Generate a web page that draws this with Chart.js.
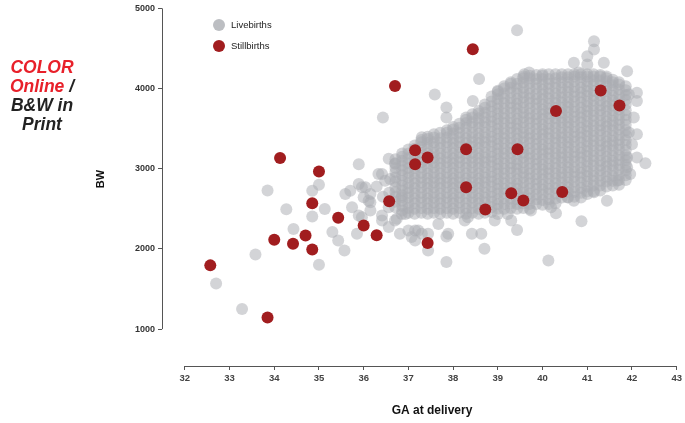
<!DOCTYPE html>
<html>
<head>
<meta charset="utf-8">
<script src="https://cdn.jsdelivr.net/npm/chart.js@4"></script>
<style>
  html, body { margin: 0; padding: 0; background: #fff; }
  #wrap { position: relative; width: 685px; height: 423px; }
  #note { position: absolute; left: 0; top: 58px; width: 84px; text-align: center;
          font-family: "Liberation Sans", Arial, sans-serif; font-weight: bold; font-style: italic;
          font-size: 17.5px; line-height: 19px; color: #222; }
  #note .red { color: #e8202a; }
</style>
</head>
<body>
<div id="wrap">
  <canvas id="c" width="685" height="423"></canvas>
  <div id="note"><span class="red">COLOR</span><br><span class="red">Online</span> /<br>B&amp;W in<br>Print</div>
</div>
<script>
// ---- data ----
const xTicks = [32, 33, 34, 35, 36, 37, 38, 39, 40, 41, 42, 43];
const yTicks = [1000, 2000, 3000, 4000, 5000];

const stillGA = [32.57, 33.85, 34.00, 34.13, 34.42, 34.70, 34.85, 34.85, 35.00, 35.43, 36.00, 36.29, 36.57, 36.70, 37.15, 37.15, 37.43, 37.43, 38.29, 38.29, 38.44, 38.72, 39.30, 39.44, 39.57, 40.30, 40.44, 41.30, 41.72];
const stillBW = [1795, 1145, 2114, 3133, 2065, 2168, 2569, 1994, 2967, 2388, 2292, 2172, 2595, 4031, 3231, 3057, 3141, 2073, 3243, 2768, 4491, 2491, 2694, 3243, 2603, 3720, 2710, 3977, 3790];

// scattered livebirths
const liveGA = [32.70, 33.28, 33.58, 33.85, 34.27, 34.43, 34.85, 35.00, 34.85, 35.00, 35.13, 35.30, 35.43, 35.57, 35.89, 35.85, 35.59, 35.70, 35.74, 35.89,
  35.89, 36.00, 36.04, 36.15, 36.15, 36.15, 36.33, 36.41, 36.48, 36.56, 36.74, 36.85, 36.93, 37.00, 37.07, 37.15, 37.44, 35.96, 36.11, 35.96,
  36.41, 36.56, 36.70, 36.81, 37.15, 37.67, 37.85, 37.85, 37.44, 37.30, 36.43, 36.56, 36.70, 36.41, 36.59, 37.30, 37.59, 37.85, 37.85, 38.44,
  38.58, 39.43, 41.15, 41.15, 41.00, 41.00, 40.70, 41.37, 41.89, 42.11, 42.11, 41.93, 42.04, 42.11, 42.00, 42.30, 42.11, 41.89, 41.89, 41.93,
  41.96, 41.44, 41.15, 41.00, 40.70, 40.56, 40.87, 41.67, 40.19, 40.30, 39.74, 39.30, 39.22, 39.00, 38.93, 38.63, 38.33, 38.26, 38.42, 38.70,
  39.43, 40.13, 37.89, 37.22, 36.85, 39.00, 39.59, 39.70, 40.81, 41.00, 41.78, 36.57, 36.43, 36.29];
const liveBW = [1570, 1250, 1930, 2730, 2495, 2250, 2727, 2800, 2404, 1804, 2497, 2210, 2106, 1981, 3057, 2189, 2685, 2727, 2520, 2810,
  2416, 2646, 2769, 2685, 2582, 2479, 2934, 2416, 2851, 2273, 2377, 2646, 2436, 2230, 2148, 2230, 1981, 2770, 2602, 2395,
  2354, 2520, 2354, 2189, 2106, 2312, 2155, 1836, 2189, 2189, 3640, 3124, 3062, 2934, 2872, 3392, 3925, 3763, 3640, 3845,
  4120, 4727, 4590, 4487, 4404, 4300, 4321, 4321, 4217, 3948, 3845, 3927, 3640, 3430, 3305, 3068, 3140, 3140, 3020, 3453,
  2934, 2602, 2706, 2686, 2602, 2646, 2345, 2851, 2520, 2445, 2478, 2354, 2436, 2436, 2354, 2189, 2395, 2354, 2189, 2003,
  2236, 1857, 2189, 2230, 2436, 3973, 4180, 4200, 4200, 5120, 5120, 2700, 2650, 2780];

// dense core of livebirths: one column per day of gestation
const colGA = [36.71, 36.86, 37.00, 37.14, 37.29, 37.43, 37.57, 37.71, 37.86, 38.00, 38.14, 38.29, 38.43, 38.57, 38.71, 38.86, 39.00, 39.14, 39.29,
  39.43, 39.57, 39.71, 39.86, 40.00, 40.14, 40.29, 40.43, 40.57, 40.71, 40.86, 41.00, 41.14, 41.29, 41.43, 41.57, 41.71, 41.86];
const colBW = [
  [2520,2590,2650,2710,2770,2840,2890,2960,3010,3070,3120],
  [2480,2540,2600,2670,2730,2790,2850,2920,2980,3040,3100,3150,3190],
  [2450,2510,2570,2640,2700,2760,2820,2890,2950,3010,3070,3130,3190,3240],
  [2440,2500,2570,2630,2690,2760,2820,2880,2940,3010,3070,3130,3190,3250,3290],
  [2450,2510,2580,2640,2700,2770,2830,2890,2950,3020,3080,3140,3200,3270,3330,3360],
  [2440,2500,2570,2630,2690,2760,2820,2880,2940,3010,3070,3130,3190,3260,3320,3370,3400],
  [2450,2510,2580,2640,2700,2770,2830,2890,2950,3020,3080,3140,3200,3270,3330,3390,3430],
  [2440,2500,2570,2630,2690,2760,2820,2880,2940,3010,3070,3130,3190,3260,3320,3380,3450],
  [2450,2510,2580,2640,2700,2770,2830,2890,2950,3020,3080,3140,3200,3270,3330,3390,3450,3480],
  [2440,2500,2570,2630,2690,2760,2820,2880,2940,3010,3070,3130,3190,3260,3320,3380,3440,3490,3520],
  [2450,2510,2580,2640,2700,2770,2830,2890,2950,3020,3080,3140,3200,3270,3330,3390,3450,3510,3560],
  [2440,2500,2570,2630,2690,2760,2820,2880,2940,3010,3070,3130,3190,3260,3320,3380,3440,3510,3570,3610,3640],
  [2450,2510,2580,2640,2700,2770,2830,2890,2950,3020,3080,3140,3200,3270,3330,3390,3450,3520,3580,3640,3680],
  [2440,2500,2570,2630,2690,2760,2820,2880,2940,3010,3070,3130,3190,3260,3320,3380,3440,3510,3570,3630,3690,3720],
  [2450,2510,2580,2640,2700,2770,2830,2890,2950,3020,3080,3140,3200,3270,3330,3390,3450,3520,3580,3640,3700,3760,3800],
  [2460,2520,2590,2650,2710,2780,2840,2900,2960,3030,3090,3150,3210,3280,3340,3400,3460,3530,3590,3650,3710,3780,3840,3900],
  [2500,2560,2620,2690,2750,2810,2870,2940,3000,3060,3120,3190,3250,3310,3370,3440,3500,3560,3620,3690,3750,3810,3870,3930,3960],
  [2500,2560,2630,2690,2750,2820,2880,2940,3000,3070,3130,3190,3250,3320,3380,3440,3500,3570,3630,3690,3750,3820,3880,3940,4000,4030],
  [2510,2570,2630,2700,2760,2820,2880,2950,3010,3070,3130,3200,3260,3320,3380,3450,3510,3570,3630,3700,3760,3820,3880,3950,4010,4060,4080],
  [2500,2560,2620,2690,2750,2810,2870,2940,3000,3060,3120,3190,3250,3310,3370,3440,3500,3560,3620,3690,3750,3810,3870,3940,4000,4060,4120],
  [2510,2570,2640,2700,2760,2830,2890,2950,3010,3080,3140,3200,3260,3330,3390,3450,3510,3580,3640,3700,3760,3830,3890,3950,4010,4080,4130,4150],
  [2500,2560,2630,2690,2750,2820,2880,2940,3000,3070,3130,3190,3250,3320,3380,3440,3500,3570,3630,3690,3750,3820,3880,3940,4000,4070,4130,4160],
  [2560,2620,2680,2750,2810,2870,2930,3000,3060,3120,3180,3250,3310,3370,3430,3500,3560,3620,3680,3750,3810,3870,3930,4000,4060,4120,4170],
  [2550,2610,2680,2740,2800,2870,2930,2990,3050,3120,3180,3240,3300,3370,3430,3490,3550,3620,3680,3740,3800,3870,3930,3990,4050,4120,4160,4180],
  [2560,2620,2690,2750,2810,2880,2940,3000,3060,3130,3190,3250,3310,3380,3440,3500,3560,3630,3690,3750,3810,3880,3940,4000,4060,4120,4180],
  [2570,2630,2690,2760,2820,2880,2940,3010,3070,3130,3190,3260,3320,3380,3440,3510,3570,3630,3690,3760,3820,3880,3940,4010,4070,4130,4180],
  [2640,2700,2760,2830,2890,2950,3010,3080,3140,3200,3260,3330,3390,3450,3510,3580,3640,3700,3760,3830,3890,3950,4010,4080,4140,4180],
  [2640,2710,2770,2830,2890,2960,3020,3080,3140,3210,3270,3330,3390,3460,3520,3580,3640,3710,3770,3830,3890,3960,4020,4080,4140,4180],
  [2650,2710,2770,2840,2900,2960,3020,3090,3150,3210,3270,3340,3400,3460,3520,3590,3650,3710,3770,3840,3900,3960,4020,4090,4150,4180],
  [2640,2700,2760,2830,2890,2950,3010,3080,3140,3200,3260,3330,3390,3450,3510,3580,3640,3700,3760,3830,3890,3950,4010,4080,4140,4180],
  [2720,2780,2840,2910,2970,3030,3090,3160,3220,3280,3340,3410,3470,3530,3590,3660,3720,3780,3840,3910,3970,4030,4090,4150,4180],
  [2720,2790,2850,2910,2970,3040,3100,3160,3220,3290,3350,3410,3470,3540,3600,3660,3720,3790,3850,3910,3970,4040,4100,4150,4180],
  [2730,2790,2850,2920,2980,3040,3100,3170,3230,3290,3350,3420,3480,3540,3600,3670,3730,3790,3850,3920,3980,4040,4100,4150,4170],
  [2780,2840,2900,2970,3030,3090,3150,3220,3280,3340,3400,3470,3530,3590,3650,3720,3780,3840,3900,3970,4030,4090,4130,4150],
  [2790,2850,2910,2980,3040,3100,3160,3230,3290,3350,3410,3480,3540,3600,3660,3730,3790,3850,3910,3980,4040,4080,4110],
  [2800,2860,2920,2990,3050,3110,3170,3240,3300,3360,3420,3490,3550,3610,3670,3740,3800,3860,3920,3990,4050,4080],
  [2860,2920,2980,3050,3110,3170,3230,3300,3360,3420,3480,3550,3610,3670,3730,3800,3860,3920,3980,4030]
];

const seriesNames = ['Livebirths', 'Stillbirths'];
const seriesColors = ['rgba(170,173,178,0.52)', '#a11d1f'];
const legendColors = ['#bcbec2', '#a11d1f'];

// ---- build tables ----
const liveData = liveGA.map((g, i) => ({ x: g, y: liveBW[i] }));
colGA.forEach((g, i) => colBW[i].forEach(b => liveData.push({ x: g, y: b })));
const stillData = stillGA.map((g, i) => ({ x: g, y: stillBW[i] }));

const FONT = '"Liberation Sans", Arial, Helvetica, sans-serif';

const axesPlugin = {
  id: 'rAxes',
  afterDraw(chart) {
    const ctx = chart.ctx;
    const xs = chart.scales.x, ys = chart.scales.y;
    const ca = chart.chartArea;
    ctx.save();
    ctx.strokeStyle = '#555';
    ctx.lineWidth = 1;
    const lx = Math.round(ca.left) + 0.5;
    ctx.beginPath();
    ctx.moveTo(lx, ys.getPixelForValue(yTicks[0]));
    ctx.lineTo(lx, ys.getPixelForValue(yTicks[yTicks.length - 1]));
    ctx.stroke();
    const by = Math.round(ca.bottom) + 0.5;
    ctx.beginPath();
    ctx.moveTo(xs.getPixelForValue(xTicks[0]), by);
    ctx.lineTo(xs.getPixelForValue(xTicks[xTicks.length - 1]), by);
    ctx.stroke();

    ctx.fillStyle = '#111';
    ctx.font = 'bold 12px ' + FONT;
    ctx.textAlign = 'center';
    ctx.textBaseline = 'middle';
    ctx.fillText('GA at delivery', 432, 411);
    ctx.save();
    ctx.translate(101, 179);
    ctx.rotate(-Math.PI / 2);
    ctx.font = 'bold 11px ' + FONT;
    ctx.fillText('BW', 0, 0);
    ctx.restore();

    const items = [[219, 25], [219, 46]];
    items.forEach((p, i) => {
      ctx.beginPath();
      ctx.fillStyle = legendColors[i];
      ctx.arc(p[0], p[1], 6, 0, Math.PI * 2);
      ctx.fill();
      ctx.fillStyle = '#222';
      ctx.font = '9.5px ' + FONT;
      ctx.textAlign = 'left';
      ctx.fillText(seriesNames[i], 231, p[1]);
    });
    ctx.restore();
  }
};

new Chart(document.getElementById('c'), {
  type: 'scatter',
  data: {
    datasets: [
      { label: seriesNames[0], data: liveData, backgroundColor: seriesColors[0], borderWidth: 0,
        pointRadius: 6, pointHoverRadius: 6, order: 1, clip: false },
      { label: seriesNames[1], data: stillData, backgroundColor: seriesColors[1], borderWidth: 0,
        pointRadius: 6, pointHoverRadius: 6, order: 0, clip: false }
    ]
  },
  options: {
    responsive: false,
    animation: false,
    events: [],
    layout: { padding: { top: 7, right: 5, left: 0, bottom: 0 } },
    plugins: { legend: { display: false }, tooltip: { enabled: false } },
    scales: {
      x: {
        type: 'linear', min: 31.49, max: 43,
        afterBuildTicks: s => { s.ticks = xTicks.map(v => ({ value: v })); },
        afterFit: s => { s.height = 57; },
        grid: { display: true, drawOnChartArea: false, drawTicks: true, tickLength: 4, color: '#555', lineWidth: 1 },
        border: { display: false },
        ticks: { color: '#444', font: { family: FONT, size: 9.5, weight: 'bold' }, padding: 3, maxRotation: 0, autoSkip: false,
                 callback: v => String(v) }
      },
      y: {
        type: 'linear', min: 540, max: 5000,
        afterBuildTicks: s => { s.ticks = yTicks.map(v => ({ value: v })); },
        afterFit: s => { s.width = 162; },
        grid: { display: true, drawOnChartArea: false, drawTicks: true, tickLength: 4, color: '#555', lineWidth: 1 },
        border: { display: false },
        ticks: { color: '#333', font: { family: FONT, size: 9, weight: 'bold' }, padding: 3, autoSkip: false,
                 callback: v => String(v) }
      }
    }
  },
  plugins: [axesPlugin]
});
</script>
</body>
</html>
